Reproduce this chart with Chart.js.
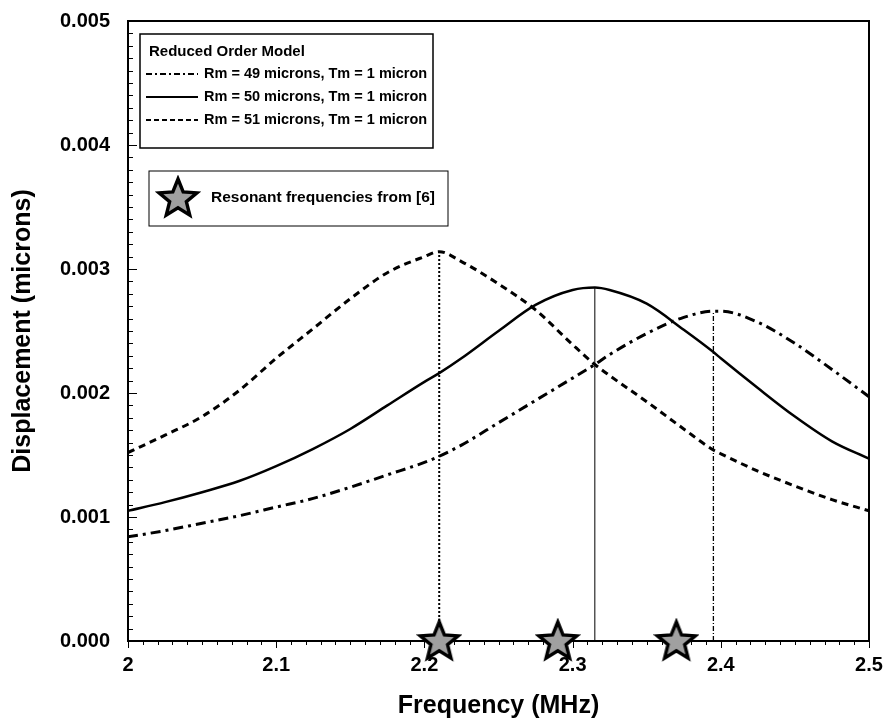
<!DOCTYPE html>
<html>
<head>
<meta charset="utf-8">
<script src="https://cdn.jsdelivr.net/npm/chart.js@4.4.1/dist/chart.umd.min.js"></script>
<style>
  html, body { margin: 0; padding: 0; background: #fff; }
  #wrap { width: 890px; height: 723px; }
</style>
</head>
<body>
<div id="wrap"><canvas id="dispChart" width="890" height="723"></canvas></div>
<script>
// frequency axis (MHz), shared by the three curves
const freqs = [2.000, 2.025, 2.050, 2.075, 2.100, 2.125, 2.150, 2.175, 2.200, 2.210, 2.225, 2.250,
               2.275, 2.300, 2.315, 2.325, 2.350, 2.375, 2.395, 2.400, 2.425, 2.450, 2.475, 2.500];

// displacement (microns)
const rm49 = [0.00084, 0.00089, 0.00095, 0.00101, 0.00108, 0.00115, 0.00124, 0.00134, 0.00144, 0.00149, 0.00158, 0.00176,
              0.00194, 0.00212, 0.00223, 0.00231, 0.00248, 0.00261, 0.00266, 0.00266, 0.00257, 0.00240, 0.00219, 0.00197];
const rm50 = [0.00105, 0.00112, 0.00120, 0.00129, 0.00141, 0.00155, 0.00171, 0.00190, 0.00209, 0.00216, 0.00228, 0.00250,
              0.00271, 0.00283, 0.00285, 0.00283, 0.00272, 0.00251, 0.00233, 0.00228, 0.00204, 0.00181, 0.00161, 0.00147];
const rm51 = [0.00152, 0.00166, 0.00181, 0.00202, 0.00228, 0.00252, 0.00276, 0.00297, 0.00310, 0.00314, 0.00306, 0.00288,
              0.00267, 0.00239, 0.00223, 0.00214, 0.00193, 0.00171, 0.00154, 0.00151, 0.00137, 0.00125, 0.00114, 0.00105];

// peak markers (vertical lines), order: 49, 50, 51
const peakFreqs = [2.395, 2.315, 2.210];
const peakVals = [0.00266, 0.00285, 0.00314];

// resonant frequencies from [6]
const starFreqs = [2.21, 2.29, 2.37];

const seriesLabels = ['Rm = 49 microns, Tm = 1 micron', 'Rm = 50 microns, Tm = 1 micron', 'Rm = 51 microns, Tm = 1 micron'];
const legendTitle = 'Reduced Order Model';
const starLabel = 'Resonant frequencies from [6]';

const yTicks = [0, 0.001, 0.002, 0.003, 0.004, 0.005];
const xTicks = [2, 2.1, 2.2, 2.3, 2.4, 2.5];

const FONT = '"Liberation Sans", Arial, Helvetica, sans-serif';
const dashes = [[10, 5, 3, 5], [], [7, 5]];

function pts(ys) {
  return freqs.map((f, i) => ({ x: f, y: ys[i] }));
}

// star marker image
function makeStar(r) {
  const c = document.createElement('canvas');
  const s = Math.ceil(r * 2 + 6);
  c.width = s; c.height = s;
  const g = c.getContext('2d');
  g.translate(s / 2, s / 2 + 1);
  g.beginPath();
  for (let i = 0; i < 10; i++) {
    const rad = i % 2 === 0 ? r : r * 0.44;
    const a = -Math.PI / 2 + i * Math.PI / 5;
    g.lineTo(rad * Math.cos(a), rad * Math.sin(a));
  }
  g.closePath();
  g.fillStyle = '#a0a0a0';
  g.fill();
  g.lineWidth = 3.4;
  g.lineJoin = 'miter';
  g.strokeStyle = '#000';
  g.stroke();
  return c;
}
const starImg = makeStar(20);

const datasets = [
  { label: seriesLabels[0], data: pts(rm49), borderDash: dashes[0], borderWidth: 3 },
  { label: seriesLabels[1], data: pts(rm50), borderDash: dashes[1], borderWidth: 2.5 },
  { label: seriesLabels[2], data: pts(rm51), borderDash: dashes[2], borderWidth: 3 },
].map(d => Object.assign(d, {
  borderColor: '#000', pointRadius: 0, cubicInterpolationMode: 'monotone', fill: false, order: 2
}));

const peakStyles = [
  { borderDash: [5, 2, 1, 2], borderWidth: 1.3 },
  { borderDash: [], borderWidth: 1 },
  { borderDash: [2, 2], borderWidth: 2 }
];
peakFreqs.forEach((f, i) => {
  datasets.push(Object.assign({
    label: 'peak' + i,
    data: [{ x: f, y: 0 }, { x: f, y: peakVals[i] }],
    borderColor: '#000', pointRadius: 0, fill: false, order: 3
  }, peakStyles[i]));
});

datasets.push({
  label: 'stars',
  data: starFreqs.map(f => ({ x: f, y: 0 })),
  showLine: false,
  pointStyle: starImg,
  pointRadius: 20,
  clip: false,
  order: 0
});

// frame + minor/major ticks, drawn before datasets so stars sit on top
const framePlugin = {
  id: 'frame',
  beforeDatasetsDraw(chart) {
    const { ctx, chartArea: a, scales } = chart;
    const x = scales.x, y = scales.y;
    ctx.save();
    ctx.strokeStyle = '#000';
    ctx.lineWidth = 1;
    for (let k = 0; k <= 50; k++) {
      const yp = y.getPixelForValue(k * 0.0001);
      const len = k % 10 === 0 ? 9 : 5;
      ctx.beginPath();
      ctx.moveTo(a.left, Math.round(yp) + 0.5);
      ctx.lineTo(a.left + len, Math.round(yp) + 0.5);
      ctx.stroke();
    }
    for (let k = 0; k <= 50; k++) {
      const xp = x.getPixelForValue(2 + k * 0.01);
      const len = k % 10 === 0 ? 7 : 4;
      ctx.beginPath();
      ctx.moveTo(Math.round(xp) + 0.5, a.bottom);
      ctx.lineTo(Math.round(xp) + 0.5, a.bottom + len);
      ctx.stroke();
    }
    ctx.lineWidth = 2;
    ctx.strokeRect(a.left, a.top, a.right - a.left, a.bottom - a.top);
    ctx.restore();
  }
};

// the two boxed legends
const legendPlugin = {
  id: 'boxLegend',
  afterDraw(chart) {
    const ctx = chart.ctx;
    ctx.save();
    ctx.fillStyle = '#fff';
    ctx.fillRect(140, 34, 293, 114);
    ctx.strokeStyle = '#000';
    ctx.lineWidth = 1.5;
    ctx.strokeRect(140, 34, 293, 114);
    ctx.fillStyle = '#000';
    ctx.textBaseline = 'middle';
    ctx.font = 'bold 15px ' + FONT;
    ctx.fillText(legendTitle, 149, 52);
    ctx.font = 'bold 14.5px ' + FONT;
    const rows = [74, 97, 120];
    seriesLabels.forEach((lab, i) => {
      ctx.beginPath();
      ctx.setLineDash(i === 0 ? [6, 3, 2, 3] : i === 2 ? [5, 3] : []);
      ctx.lineWidth = 2;
      ctx.moveTo(146, rows[i]);
      ctx.lineTo(198, rows[i]);
      ctx.stroke();
      ctx.setLineDash([]);
      ctx.fillText(lab, 204, rows[i]);
    });

    ctx.fillStyle = '#fff';
    ctx.fillRect(149, 171, 299, 55);
    ctx.lineWidth = 1;
    ctx.strokeRect(149, 171, 299, 55);
    ctx.drawImage(starImg, 178 - starImg.width / 2, 198 - starImg.height / 2);
    ctx.fillStyle = '#000';
    ctx.font = 'bold 15.5px ' + FONT;
    ctx.fillText(starLabel, 211, 198);
    ctx.restore();
  }
};

function noPad(s) {
  s.paddingLeft = 0; s.paddingRight = 0; s.paddingTop = 0; s.paddingBottom = 0;
}

new Chart(document.getElementById('dispChart').getContext('2d'), {
  type: 'line',
  data: { datasets },
  options: {
    responsive: false,
    animation: false,
    layout: { padding: { top: 18, right: 18, left: 0, bottom: 0 } },
    plugins: { legend: { display: false }, tooltip: { enabled: false } },
    scales: {
      x: {
        type: 'linear', min: 2, max: 2.5,
        afterBuildTicks: s => { s.ticks = xTicks.map(v => ({ value: v })); },
        afterFit: s => { s.height = 82; noPad(s); },
        grid: { display: false, drawTicks: false },
        border: { display: false },
        ticks: {
          color: '#000', padding: 12,
          font: { family: FONT, size: 20, weight: 'bold' },
          callback: v => String(+v.toFixed(1))
        },
        title: {
          display: true, text: 'Frequency (MHz)', color: '#000',
          font: { family: FONT, size: 25, weight: 'bold' },
          padding: { top: 0, bottom: 2 }
        }
      },
      y: {
        type: 'linear', min: 0, max: 0.005,
        afterBuildTicks: s => { s.ticks = yTicks.map(v => ({ value: v })); },
        afterFit: s => { s.width = 128; noPad(s); },
        grid: { display: false, drawTicks: false },
        border: { display: false },
        ticks: {
          color: '#000', padding: 18,
          font: { family: FONT, size: 20, weight: 'bold' },
          callback: v => v.toFixed(3)
        },
        title: {
          display: true, text: 'Displacement (microns)', color: '#000',
          font: { family: FONT, size: 25, weight: 'bold' },
          padding: { top: 8, bottom: 0 }
        }
      }
    }
  },
  plugins: [framePlugin, legendPlugin]
});
</script>
</body>
</html>
